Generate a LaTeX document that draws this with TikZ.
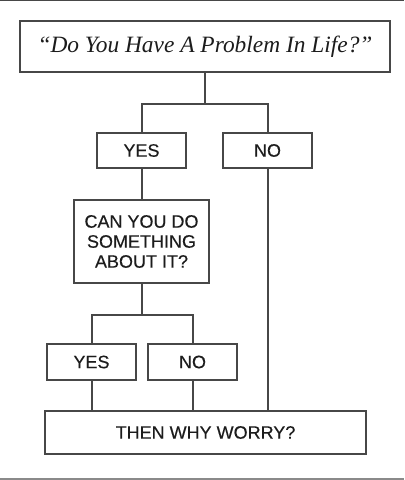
\documentclass[tikz,border=0pt]{standalone}
\usepackage{fontspec}
\setmainfont{Liberation Serif}
\setsansfont{Liberation Sans}
\newfontfamily\wrysans[FakeBold=0.35]{Liberation Sans}
\definecolor{wryInk}{HTML}{1C1C1C}
\definecolor{wryLine}{HTML}{474747}
\definecolor{wryEdge}{HTML}{8A8A8A}
\tikzset{
  wry box/.style={draw=wryLine, line width=1pt, inner sep=0pt, text=wryInk, align=center},
  wry small/.style={wry box, minimum width=44.5pt, minimum height=17.5pt, font=\wrysans\fontsize{9}{10}\selectfont},
  wry link/.style={draw=wryLine, line width=1pt},
}
\begin{document}
\begin{tikzpicture}[x=0.5pt, y=-0.5pt]
  \useasboundingbox (0,0) rectangle (404,480);
  \fill[white] (0,0) rectangle (404,480);
  % screen edges
  \draw[wryLine, line width=1pt] (0,0.5) -- (404,0.5);
  \draw[wryEdge, line width=1pt] (0,478.5) -- (404,478.5);
  % boxes
  \node[wry box, minimum width=185pt, minimum height=25.5pt,
        font=\itshape\fontsize{11.7}{14}\selectfont] (q) at (205,46.5) {“Do You Have A Problem In Life?”};
  \node[wry small] (yesA) at (141.5,150.5) {YES};
  \node[wry small] (noA) at (267.5,150.5) {NO};
  \node[wry box, minimum width=67.5pt, minimum height=41.5pt,
        font=\wrysans\fontsize{9}{10}\selectfont] (can) at (141.5,241.5) {CAN YOU DO\\SOMETHING\\ABOUT IT?};
  \node[wry small, minimum height=18pt] (yesB) at (91.5,362) {YES};
  \node[wry small, minimum height=18pt] (noB) at (192.5,362) {NO};
  \node[wry box, minimum width=160.5pt, minimum height=21.5pt,
        font=\wrysans\fontsize{9}{10}\selectfont] (end) at (205.5,432.5) {THEN WHY WORRY?};
  % connectors
  \draw[wry link] (q.south) -- ++(0,31) coordinate (forkA);
  \draw[wry link] (forkA) -| (yesA.north);
  \draw[wry link] (forkA) -| (noA.north);
  \draw[wry link] (yesA.south) -- (can.north);
  \draw[wry link] (can.south) -- ++(0,31) coordinate (forkB);
  \draw[wry link] (forkB) -| (yesB.north);
  \draw[wry link] (forkB) -| (noB.north);
  \draw[wry link] (yesB.south) -- (yesB.south |- end.north);
  \draw[wry link] (noB.south) -- (noB.south |- end.north);
  \draw[wry link] (noA.south) -- (noA.south |- end.north);
\end{tikzpicture}
\end{document}
